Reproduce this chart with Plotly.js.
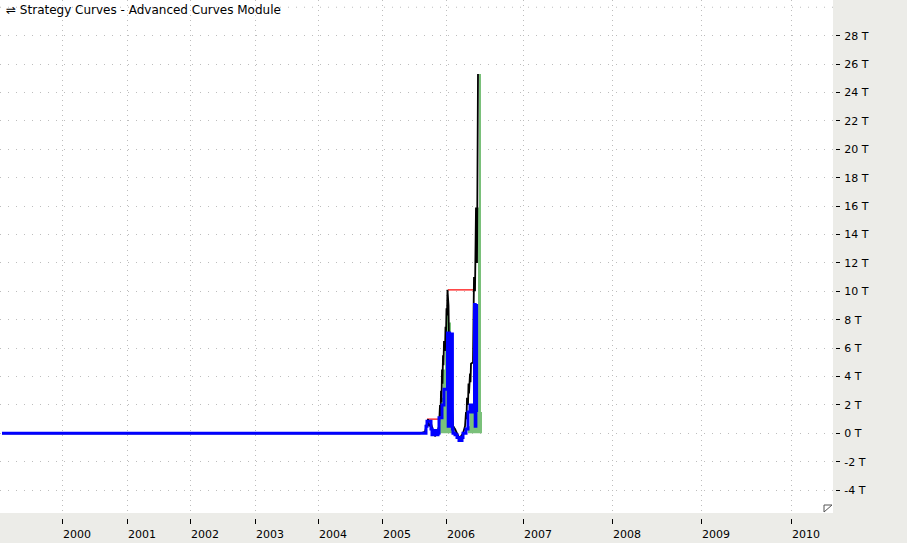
<!DOCTYPE html>
<html>
<head>
<meta charset="utf-8">
<script src="https://cdn.plot.ly/plotly-3.0.1.min.js"></script>
<style>html,body{margin:0;padding:0;background:#ECECE8;}#chart{width:907px;height:543px;}</style>
</head>
<body>
<div id="chart"></div>
<script>
// ---- Data (x = bar index, y = equity in trillions) ----
const yearTickPos = [62, 127, 190, 255, 318, 382, 446, 523, 612, 701, 791];
const yearLabels  = ['2000','2001','2002','2003','2004','2005','2006','2007','2008','2009','2010'];

const yTickVals = [-4, -2, 0, 2, 4, 6, 8, 10, 12, 14, 16, 18, 20, 22, 24, 26, 28];

// green filled equity area (step)
const greenX = [420, 436, 439, 441, 443, 445, 447, 449, 451, 453, 455, 468, 470, 478, 479, 481, 482];
const greenY = [0,   0.3, 1.2, 2.5, 4.5, 6.5, 8.5, 7.8, 6.5, 0.5, 0,   0.5, 1.5, 15.9, 25.3, 1.5, 0];

// red high-water line (only where above equity)
const redX = [427, 438, null, 448, 474];
const redY = [1.0, 1.0, null, 10.1, 10.1];

// black equity line
const blackX = [2, 420, 425, 427, 428, 429, 431, 433, 435, 437, 439, 440, 440.5, 441, 441.5, 442, 442.5, 443, 443.5, 444, 445, 445.5, 446, 446.5, 447, 447.5, 448.5, 449, 450, 451, 452, 453, 455, 457, 459, 461, 463, 465, 466, 466.5, 467, 468, 468.5, 469, 470, 470.5, 471, 473, 474, 475, 476, 477, 478];
const blackY = [0, 0,   0.1, 0.8, 1.0, 0.5, 0.7, 0.2, -0.2, 0,  0.5, 2.0, 1.2,   3.0, 2.2,   4.5, 3.5,   5.5, 4.8,   6.5, 5.8, 7.5,   7.0, 8.8,   8.3, 10.1,  9.0,   6.5, 5.0, 4.0, 2.0, 0.5, 0.3, 0,  -0.3, -0.2, 0,  0.5, 1.5, 1.0,   2.5, 2.0, 3.5,   2.8, 4.2, 3.6,   4.9, 5.0, 11.0, 10.0, 15.9, 12.0, 25.3];

// blue closed equity line (step)
const blueX = [2, 424, 426, 427, 430, 431, 432, 434, 436, 438, 439, 441, 442, 444, 447.5, 448.2, 448.9, 449.6, 450.3, 451, 451.7, 452.4, 453, 455, 457, 459, 462, 463, 466, 468, 470, 472, 474.5, 475.2, 475.9, 476.6];
const blueY = [0, 0,   0.5, 0.85, 0.85, 0.3, -0.1, 0.2, -0.1, 0, 1.1, 1.1, 2.0, 3.1, 7.07,  0.5,   7.07,  0.5,   7.0,   0.5, 7.0,   0.3,   0,  -0.1, -0.3, -0.5, -0.3, 0, 0.3, 1.5, 2.0, 1.5, 9.07,  0.5,   9.0,   1.5];

const traces = [
  {x: greenX, y: greenY, type: 'scatter', mode: 'lines', line: {shape: 'hv', width: 0, color: 'rgb(122,192,122)'}, fill: 'tozeroy', fillcolor: 'rgb(122,192,122)', hoverinfo: 'skip'},
  {x: redX, y: redY, type: 'scatter', mode: 'lines', line: {color: '#FF0000', width: 1.2}, connectgaps: false},
  {x: blackX, y: blackY, type: 'scatter', mode: 'lines', line: {color: '#000000', width: 1.8}},
  {x: blueX, y: blueY, type: 'scatter', mode: 'lines', line: {shape: 'hv', color: '#0000FF', width: 3}}
];

const W = 907, H = 543;
const plotRight = 833, plotBottom = 513;

const layout = {
  width: W, height: H,
  margin: {l: 0, r: 0, t: 0, b: 0, pad: 0},
  paper_bgcolor: '#ECECE8',
  plot_bgcolor: '#FFFFFF',
  showlegend: false,
  font: {family: 'DejaVu Sans, sans-serif', size: 11, color: '#000'},
  xaxis: {
    domain: [0, plotRight / W],
    range: [0, 833],
    anchor: 'free',
    position: (H - 518) / H,
    tickvals: yearTickPos,
    ticktext: yearLabels,
    ticks: 'outside', ticklen: 5, tickwidth: 1, tickcolor: '#000',
    ticklabelshift: 15, ticklabelstandoff: 1,
    tickfont: {family: 'DejaVu Sans, sans-serif', size: 11, color: '#000'},
    showgrid: true, gridcolor: '#BDBDBD', gridwidth: 1, griddash: '1px,4px',
    zeroline: false, showline: false, fixedrange: true
  },
  yaxis: {
    domain: [(H - plotBottom) / H, 1],
    range: [-5.61, 30.51],
    side: 'right',
    anchor: 'free',
    position: 835 / W,
    tickvals: yTickVals,
    ticktext: yTickVals.map(v => v + ' T'),
    ticks: 'outside', ticklen: 4, tickwidth: 1, tickcolor: '#000',
    ticklabelstandoff: 2,
    tickfont: {family: 'DejaVu Sans, sans-serif', size: 11, color: '#000'},
    showgrid: true, gridcolor: '#BDBDBD', gridwidth: 1, griddash: '1px,7px',
    zeroline: false, showline: false, fixedrange: true
  },
  shapes: [
    {type: 'line', xref: 'paper', yref: 'y', x0: 0, x1: plotRight / W, y0: 30, y1: 30,
     line: {color: '#BDBDBD', width: 1, dash: '1px,7px'}, layer: 'below'},
    {type: 'path', xref: 'paper', yref: 'paper',
     path: 'M ' + (824 / W) + ' ' + ((H - 505) / H) + ' L ' + (832 / W) + ' ' + ((H - 505) / H) + ' L ' + (824 / W) + ' ' + ((H - 512) / H) + ' Z',
     fillcolor: '#FFFFFF', line: {color: '#555', width: 1}}
  ],
  annotations: [
    {xref: 'paper', yref: 'paper', x: 4 / W, y: 1, xanchor: 'left', yanchor: 'top', yshift: -1,
     showarrow: false, text: '⇌ Strategy Curves - Advanced Curves Module',
     font: {family: 'DejaVu Sans, sans-serif', size: 12, color: '#000'}}
  ]
};

Plotly.newPlot('chart', traces, layout, {displayModeBar: false, staticPlot: true});
</script>
</body>
</html>
